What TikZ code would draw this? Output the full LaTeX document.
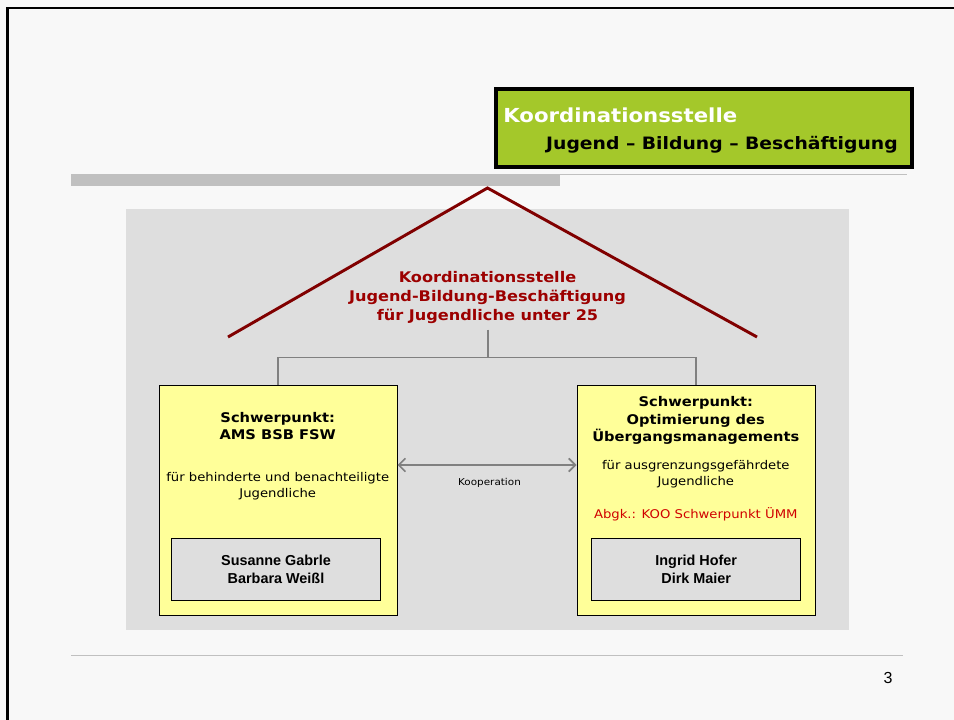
\documentclass[tikz,border=0pt]{standalone}
\usepackage{fontspec}
\setmainfont[FakeStretch=1.1]{DejaVu Sans}
\newfontfamily\arialfont{Liberation Sans}
\usetikzlibrary{arrows.meta}
\definecolor{slidebg}{HTML}{F8F8F8}
\definecolor{panelgray}{HTML}{DEDEDE}
\definecolor{bargray}{HTML}{C0C0C0}
\definecolor{titlegreen}{HTML}{A4C82A}
\definecolor{fokusyellow}{HTML}{FFFF99}
\definecolor{roofred}{HTML}{800000}
\definecolor{rooftext}{HTML}{9C0000}
\definecolor{abgkred}{HTML}{D00000}
\newcommand{\linkgray}{black!50}

\begin{document}
\begin{tikzpicture}[x=0.75pt, y=-0.75pt,
  fokus/.style = {draw, thin, fill=fokusyellow, minimum width=238.5*0.75pt,
    minimum height=230*0.75pt, anchor=north west, inner sep=0pt},
  namebox/.style = {draw, thin, fill=panelgray, minimum width=209*0.75pt,
    minimum height=61.5*0.75pt, align=center,
    font=\arialfont\bfseries\fontsize{10.8}{13}\selectfont},
  head/.style = {align=center, font=\bfseries\fontsize{10}{13}\selectfont},
  plain/.style = {align=center, font=\fontsize{9}{12}\selectfont},
  link/.style = {draw=\linkgray, line width=1.2pt},
  roof/.style = {draw=roofred, line width=2.2pt}]
\useasboundingbox (0,0) rectangle (954,720);
\fill[slidebg] (0,0) rectangle (954,720);
% slide frame
\draw[line width=2pt] (7.3,720) -- (7.3,8) -- (954,8);
% title
\node[draw, line width=3pt, fill=titlegreen, minimum width=416*0.75pt,
  minimum height=78*0.75pt, anchor=north west, inner sep=0pt] (title) at (494,87) {};
\node[anchor=base west, inner sep=0pt, text=white, font=\bfseries\fontsize{14.5}{16}\selectfont]
  (titleA) at (503,123) {Koordinationsstelle};
\node[anchor=base east, inner sep=0pt, font=\bfseries\fontsize{12.8}{16}\selectfont]
  (titleB) at (898,150) {Jugend – Bildung – Beschäftigung};
% rules
\fill[bargray] (71,174) rectangle (560,186);
\draw[bargray, line width=0.8pt] (560,174.5) -- (907,174.5);
\draw[bargray, line width=0.8pt] (71,655.5) -- (903,655.5);
\node[font=\arialfont\fontsize{12}{14}\selectfont] (page) at (888,678) {3};
% panel
\fill[panelgray] (126,209) rectangle (849,630);
\draw[roof] (228,337) -- (487.5,188) -- (757,337);
\node[text=rooftext, align=center, font=\bfseries\fontsize{11}{14.25}\selectfont]
  (koo) at (487.5,298) {Koordinationsstelle\\Jugend-Bildung-Beschäftigung\\für Jugendliche unter 25};
\coordinate (hub) at (488,330);
% the two focus boxes
\node[fokus] (ams) at (158.5,385) {};
\node[fokus] (uem) at (576.5,385) {};
\draw[link] (hub) -- ++(0,27.5) -| (ams.north);
\draw[link] (hub) -- ++(0,27.5) -| (uem.north);
\draw[link, {Straight Barb[length=5pt,width=10pt]}-{Straight Barb[length=5pt,width=10pt]}]
  (ams.east |- 0,465) -- (uem.west |- 0,465);
\node[font=\fontsize{7.1}{8}\selectfont] (koop) at (489.5,483) {Kooperation};
% left box
\node[head] (amsA) at (277.7,426) {Schwerpunkt:\\AMS BSB FSW};
\node[plain] (amsB) at (277.7,486) {für behinderte und benachteiligte\\Jugendliche};
\node[namebox] (amsN) at (276,569.5) {Susanne Gabrle\\Barbara Weißl};
% right box
\node[head] (uemA) at (695.8,420.5) {Schwerpunkt:\\Optimierung des\\Übergangsmanagements};
\node[plain] (uemB) at (695.8,474.5) {für ausgrenzungsgefährdete\\Jugendliche};
\node[plain, text=abgkred] (uemC) at (695.8,514) {Abgk.: KOO Schwerpunkt ÜMM};
\node[namebox] (uemN) at (696.2,569.5) {Ingrid Hofer\\Dirk Maier};
\end{tikzpicture}
\end{document}
